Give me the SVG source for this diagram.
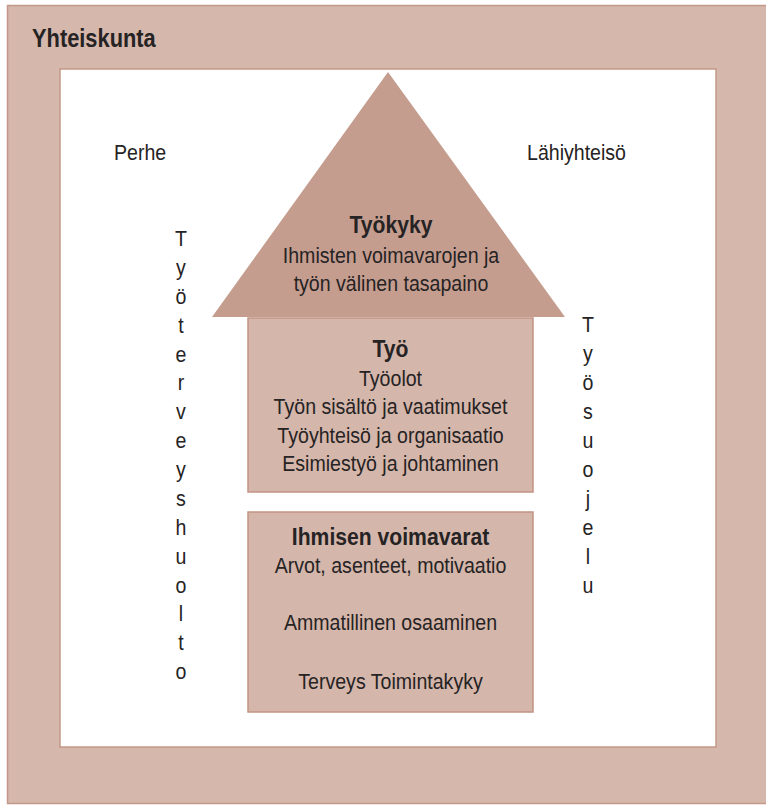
<svg xmlns="http://www.w3.org/2000/svg" width="766" height="809" viewBox="0 0 766 809">
<style>
.t{font-family:"Liberation Sans",Arial,sans-serif;font-size:22px;fill:#262324;}
.b{font-weight:bold;font-size:23px;}
.c{text-anchor:middle;}
.box{fill:#d5b6aa;stroke:#c29384;stroke-width:1.5;}
</style>
<rect width="766" height="809" fill="#ffffff"/>
<g id="yhteiskunta">
<rect x="7.5" y="5.5" width="762" height="798" fill="#d5b7ab" stroke="#c4998a" stroke-width="1.5"/>
<text class="t b" transform="translate(32,47) scale(0.84,1)" style="font-size:26px">Yhteiskunta</text>
</g>
<g id="ymparisto">
<rect x="60" y="69" width="656" height="678" fill="#ffffff" stroke="#c4998a" stroke-width="1.5"/>
</g>
<g id="perhe">
<text class="t" transform="translate(114,160) scale(0.89,1)">Perhe</text>
</g>
<g id="lahiyhteiso">
<text class="t" transform="translate(527,160) scale(0.89,1)">Lähiyhteisö</text>
</g>
<g id="tyokyky">
<polygon points="388,72 565,317 212,317" fill="#c59d8f"/>
<text class="t b c" transform="translate(391,233) scale(0.92,1)">Työkyky</text>
<text class="t c" transform="translate(391,263) scale(0.89,1)">Ihmisten voimavarojen ja</text>
<text class="t c" transform="translate(391,291) scale(0.89,1)">työn välinen tasapaino</text>
</g>
<g id="tyo">
<rect class="box" x="248" y="318" width="285" height="174"/>
<text class="t b c" transform="translate(390.5,357) scale(0.92,1)">Työ</text>
<text class="t c" transform="translate(390.5,386) scale(0.89,1)">Työolot</text>
<text class="t c" transform="translate(390.5,414) scale(0.89,1)">Työn sisältö ja vaatimukset</text>
<text class="t c" transform="translate(390.5,443) scale(0.89,1)">Työyhteisö ja organisaatio</text>
<text class="t c" transform="translate(390.5,471) scale(0.89,1)">Esimiestyö ja johtaminen</text>
</g>
<g id="voimavarat">
<rect class="box" x="248" y="512" width="285" height="200"/>
<text class="t b c" transform="translate(390.5,545) scale(0.92,1)">Ihmisen voimavarat</text>
<text class="t c" transform="translate(390.5,573) scale(0.89,1)">Arvot, asenteet, motivaatio</text>
<text class="t c" transform="translate(390.5,630) scale(0.89,1)">Ammatillinen osaaminen</text>
<text class="t c" transform="translate(390.5,689) scale(0.89,1)">Terveys Toimintakyky</text>
</g>
<g id="tyoterveyshuolto" transform="translate(181,0) scale(0.89,1)">
<text class="t c" x="0" y="246">T</text>
<text class="t c" x="0" y="275">y</text>
<text class="t c" x="0" y="304">ö</text>
<text class="t c" x="0" y="333">t</text>
<text class="t c" x="0" y="362">e</text>
<text class="t c" x="0" y="390">r</text>
<text class="t c" x="0" y="419">v</text>
<text class="t c" x="0" y="448">e</text>
<text class="t c" x="0" y="477">y</text>
<text class="t c" x="0" y="506">s</text>
<text class="t c" x="0" y="535">h</text>
<text class="t c" x="0" y="564">u</text>
<text class="t c" x="0" y="593">o</text>
<text class="t c" x="0" y="621">l</text>
<text class="t c" x="0" y="650">t</text>
<text class="t c" x="0" y="679">o</text>
</g>
<g id="tyosuojelu" transform="translate(588,0) scale(0.89,1)">
<text class="t c" x="0" y="332">T</text>
<text class="t c" x="0" y="361">y</text>
<text class="t c" x="0" y="390">ö</text>
<text class="t c" x="0" y="419">s</text>
<text class="t c" x="0" y="448">u</text>
<text class="t c" x="0" y="477">o</text>
<text class="t c" x="0" y="506">j</text>
<text class="t c" x="0" y="535">e</text>
<text class="t c" x="0" y="564">l</text>
<text class="t c" x="0" y="593">u</text>
</g>
<g id="connectors"></g>
</svg>
